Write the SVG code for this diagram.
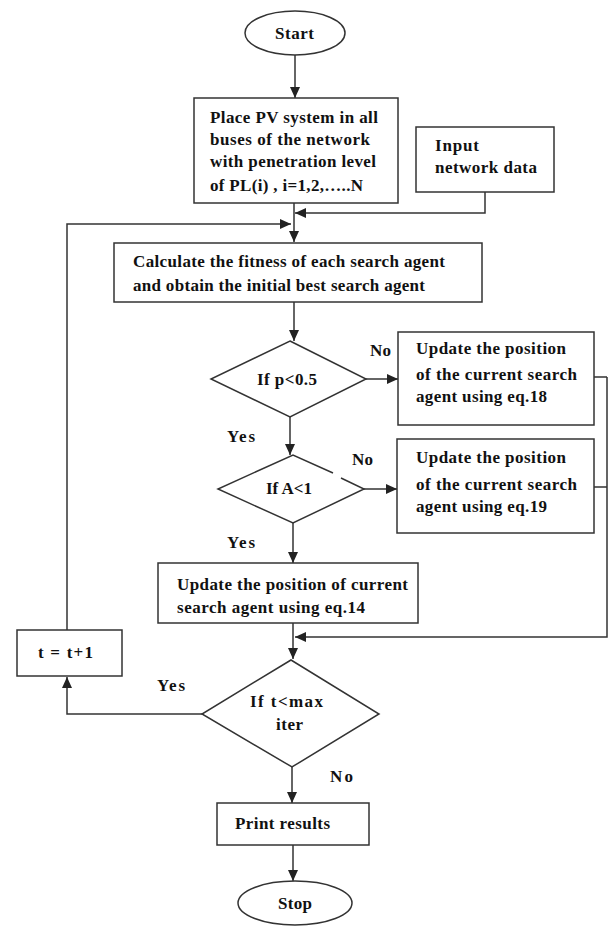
<svg xmlns="http://www.w3.org/2000/svg" width="609" height="930" viewBox="0 0 609 930">
<style>
.s{fill:#fff;stroke:#333;stroke-width:1.5}
.c{fill:none;stroke:#333;stroke-width:1.5}
text{font-family:"Liberation Serif","Times New Roman",serif;font-weight:bold;font-size:17px;fill:#111}
</style>
<defs>
<marker id="a" markerUnits="userSpaceOnUse" markerWidth="11" markerHeight="10" refX="11" refY="5" orient="auto">
<path d="M0,0 L11,5 L0,10 z" fill="#222"/>
</marker>
</defs>
<rect width="609" height="930" fill="#fff"/>
<g id="connectors">
<path class="c" d="M295,55 V98" marker-end="url(#a)"/>
<path class="c" d="M294,203 V242" marker-end="url(#a)"/>
<path class="c" d="M485,192 V213 H295" marker-end="url(#a)"/>
<path class="c" d="M67,630 V224 H291" marker-end="url(#a)"/>
<path class="c" d="M294,302 V341" marker-end="url(#a)"/>
<path class="c" d="M366,379 H398" marker-end="url(#a)"/>
<path class="c" d="M290,417 V455" marker-end="url(#a)"/>
<path class="c" d="M364,489 H397" marker-end="url(#a)"/>
<path class="c" d="M293,523 V563" marker-end="url(#a)"/>
<path class="c" d="M594,377 H607 M594,487 H607"/>
<path class="c" d="M607,377 V637 H295" marker-end="url(#a)"/>
<path class="c" d="M293,623 V659" marker-end="url(#a)"/>
<path class="c" d="M202,714 H67 V677" marker-end="url(#a)"/>
<path class="c" d="M292,767 V803" marker-end="url(#a)"/>
<path class="c" d="M293,845 V881" marker-end="url(#a)"/>
<text x="370" y="356" textLength="21">No</text>
<text x="227" y="442" textLength="28">Yes</text>
<text x="352" y="465" textLength="21">No</text>
<text x="227" y="548" textLength="28">Yes</text>
<text x="157" y="691" textLength="28">Yes</text>
<text x="330" y="782" textLength="23">No</text>
</g>
<g id="start">
<ellipse class="s" cx="295" cy="33" rx="50" ry="22"/>
<text x="275" y="39" textLength="39">Start</text>
</g>
<g id="place-pv">
<rect class="s" x="194" y="98" width="204" height="105"/>
<text x="210" y="123" textLength="168">Place PV system in all</text>
<text x="210" y="145" textLength="160">buses of the network</text>
<text x="210" y="167" textLength="166">with penetration level</text>
<text x="210" y="191" textLength="153">of PL(i) , i=1,2,…..N</text>
</g>
<g id="input">
<rect class="s" x="416" y="127" width="138" height="65"/>
<text x="435" y="151" textLength="44">Input</text>
<text x="435" y="173" textLength="102">network data</text>
</g>
<g id="calc">
<rect class="s" x="114" y="243" width="368" height="59"/>
<text x="133" y="267" textLength="312">Calculate the fitness of each search agent</text>
<text x="133" y="291" textLength="292">and obtain the initial best search agent</text>
</g>
<g id="d1">
<polygon class="s" points="290,341 366,379 290,417 211,379"/>
<text x="257" y="385" textLength="60">If p&lt;0.5</text>
</g>
<g id="eq18">
<rect class="s" x="398" y="332" width="196" height="93"/>
<text x="416" y="354" textLength="150">Update the position</text>
<text x="416" y="380" textLength="161">of the current search</text>
<text x="416" y="402" textLength="131">agent using eq.18</text>
</g>
<g id="d2">
<polygon fill="#fff" points="293,455 364,489 293,523 218,489"/>
<path class="c" d="M333,473 L293,455 L218,489 L293,523 L364,489 L341,478"/>
<text x="266" y="494" textLength="46">If A&lt;1</text>
</g>
<g id="eq19">
<rect class="s" x="397" y="439" width="197" height="94"/>
<text x="416" y="463" textLength="150">Update the position</text>
<text x="416" y="490" textLength="161">of the current search</text>
<text x="416" y="512" textLength="131">agent using eq.19</text>
</g>
<g id="eq14">
<rect class="s" x="158" y="563" width="260" height="60"/>
<text x="177" y="590" textLength="231">Update the position of current</text>
<text x="177" y="613" textLength="188">search agent using eq.14</text>
</g>
<g id="tinc">
<rect class="s" x="17" y="630" width="105" height="46"/>
<text x="38" y="658" textLength="55">t = t+1</text>
</g>
<g id="d3">
<polygon class="s" points="291,660 379,714 292,767 202,714"/>
<text x="250" y="707" textLength="73">If t&lt;max</text>
<text x="276" y="730" textLength="27">iter</text>
</g>
<g id="print">
<rect class="s" x="217" y="803" width="152" height="42"/>
<text x="235" y="829" textLength="95">Print results</text>
</g>
<g id="stop">
<ellipse class="s" cx="295" cy="903" rx="57" ry="22"/>
<text x="278" y="909" textLength="34">Stop</text>
</g>
</svg>
